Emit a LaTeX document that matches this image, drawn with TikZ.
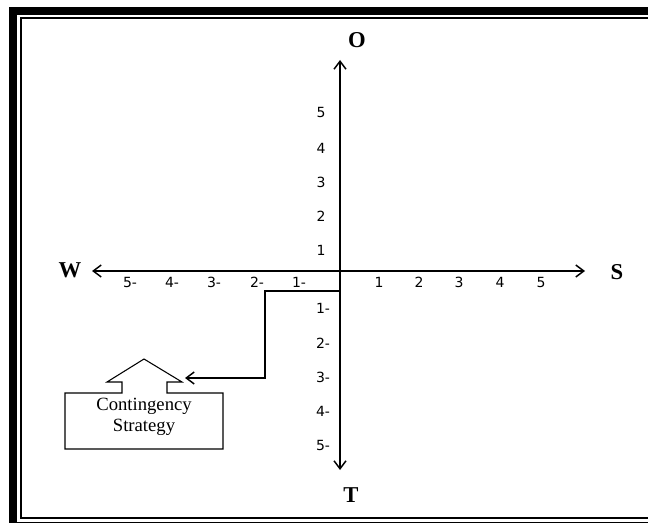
\documentclass[tikz,border=0pt]{standalone}
\usepackage{fontspec}
\setmainfont{Liberation Serif}
\newfontfamily\numfont{DejaVu Sans}
\usetikzlibrary{arrows.meta}
\tikzset{
  axis/.style={line width=1.1pt, {Straight Barb[length=6pt,width=9pt,line width=1.1pt]}-{Straight Barb[length=6pt,width=9pt,line width=1.1pt]}},
  link/.style={line width=1.1pt, -{Straight Barb[length=6pt,width=9pt,line width=1.1pt]}},
  tick/.style={font=\numfont\fontsize{10.5}{12}\selectfont, inner sep=0pt},
  pole/.style={font=\fontsize{17}{20}\selectfont\bfseries, inner sep=0pt},
  callout/.style={line width=0.8pt},
  caption/.style={font=\fontsize{14}{16}\selectfont, align=center, inner sep=0pt}
}
\begin{document}
\begin{tikzpicture}[x=0.75pt, y=-0.75pt]
  \useasboundingbox (0,0) rectangle (648,523);
  \clip (0,0) rectangle (648,523);

  % double page frame
  \draw[line width=6pt] (12.5,11) rectangle (680,525.5);
  \draw[line width=1.5pt] (20.5,18) rectangle (680,518);

  % axes
  \coordinate (origin) at (340,271);
  \coordinate (north) at (340,60);
  \coordinate (south) at (340,470);
  \coordinate (west) at (92,271);
  \coordinate (east) at (585,271);
  \draw[axis] (south) -- (north);
  \draw[axis] (west) -- (east);

  % pole labels
  \node[pole] (lblO) at (357,40) {O};
  \node[pole] (lblT) at (351,495) {T};
  \node[pole] (lblW) at (70,270) {W};
  \node[pole] (lblS) at (617,272) {S};

  % ticks on the upper half
  \foreach \n/\yy in {1/250,2/216,3/182,4/148,5/113}
    \node[tick] (up\n) at (321,\yy) {\n};
  % ticks on the lower half
  \foreach \n/\yy in {1/308,2/343,3/377,4/411,5/445}
    \node[tick] (dn\n) at (323,\yy) {\n-};
  % ticks on the right half
  \foreach \n/\xx in {1/379,2/419,3/459,4/500,5/541}
    \node[tick] (rt\n) at (\xx,282) {\n};
  % ticks on the left half
  \foreach \n/\xx in {1/299,2/257,3/214,4/172,5/130}
    \node[tick] (lf\n) at (\xx,282) {\n-};

  % callout with upward arrow
  \draw[callout] (65,393) -- (122,393) -- (122,382) -- (107,382) -- (144,359)
    -- (182,382) -- (167,382) -- (167,393) -- (223,393) -- (223,449)
    -- (65,449) -- cycle;
  \node[caption] (strategy) at (144,417) {Contingency\\Strategy};

  % connector from the axis to the callout
  \coordinate (branch) at (340,291);
  \coordinate (target) at (185,378);
  \draw[link] (branch) -- (265,291) -- (265,378) -- (target);
\end{tikzpicture}
\end{document}
